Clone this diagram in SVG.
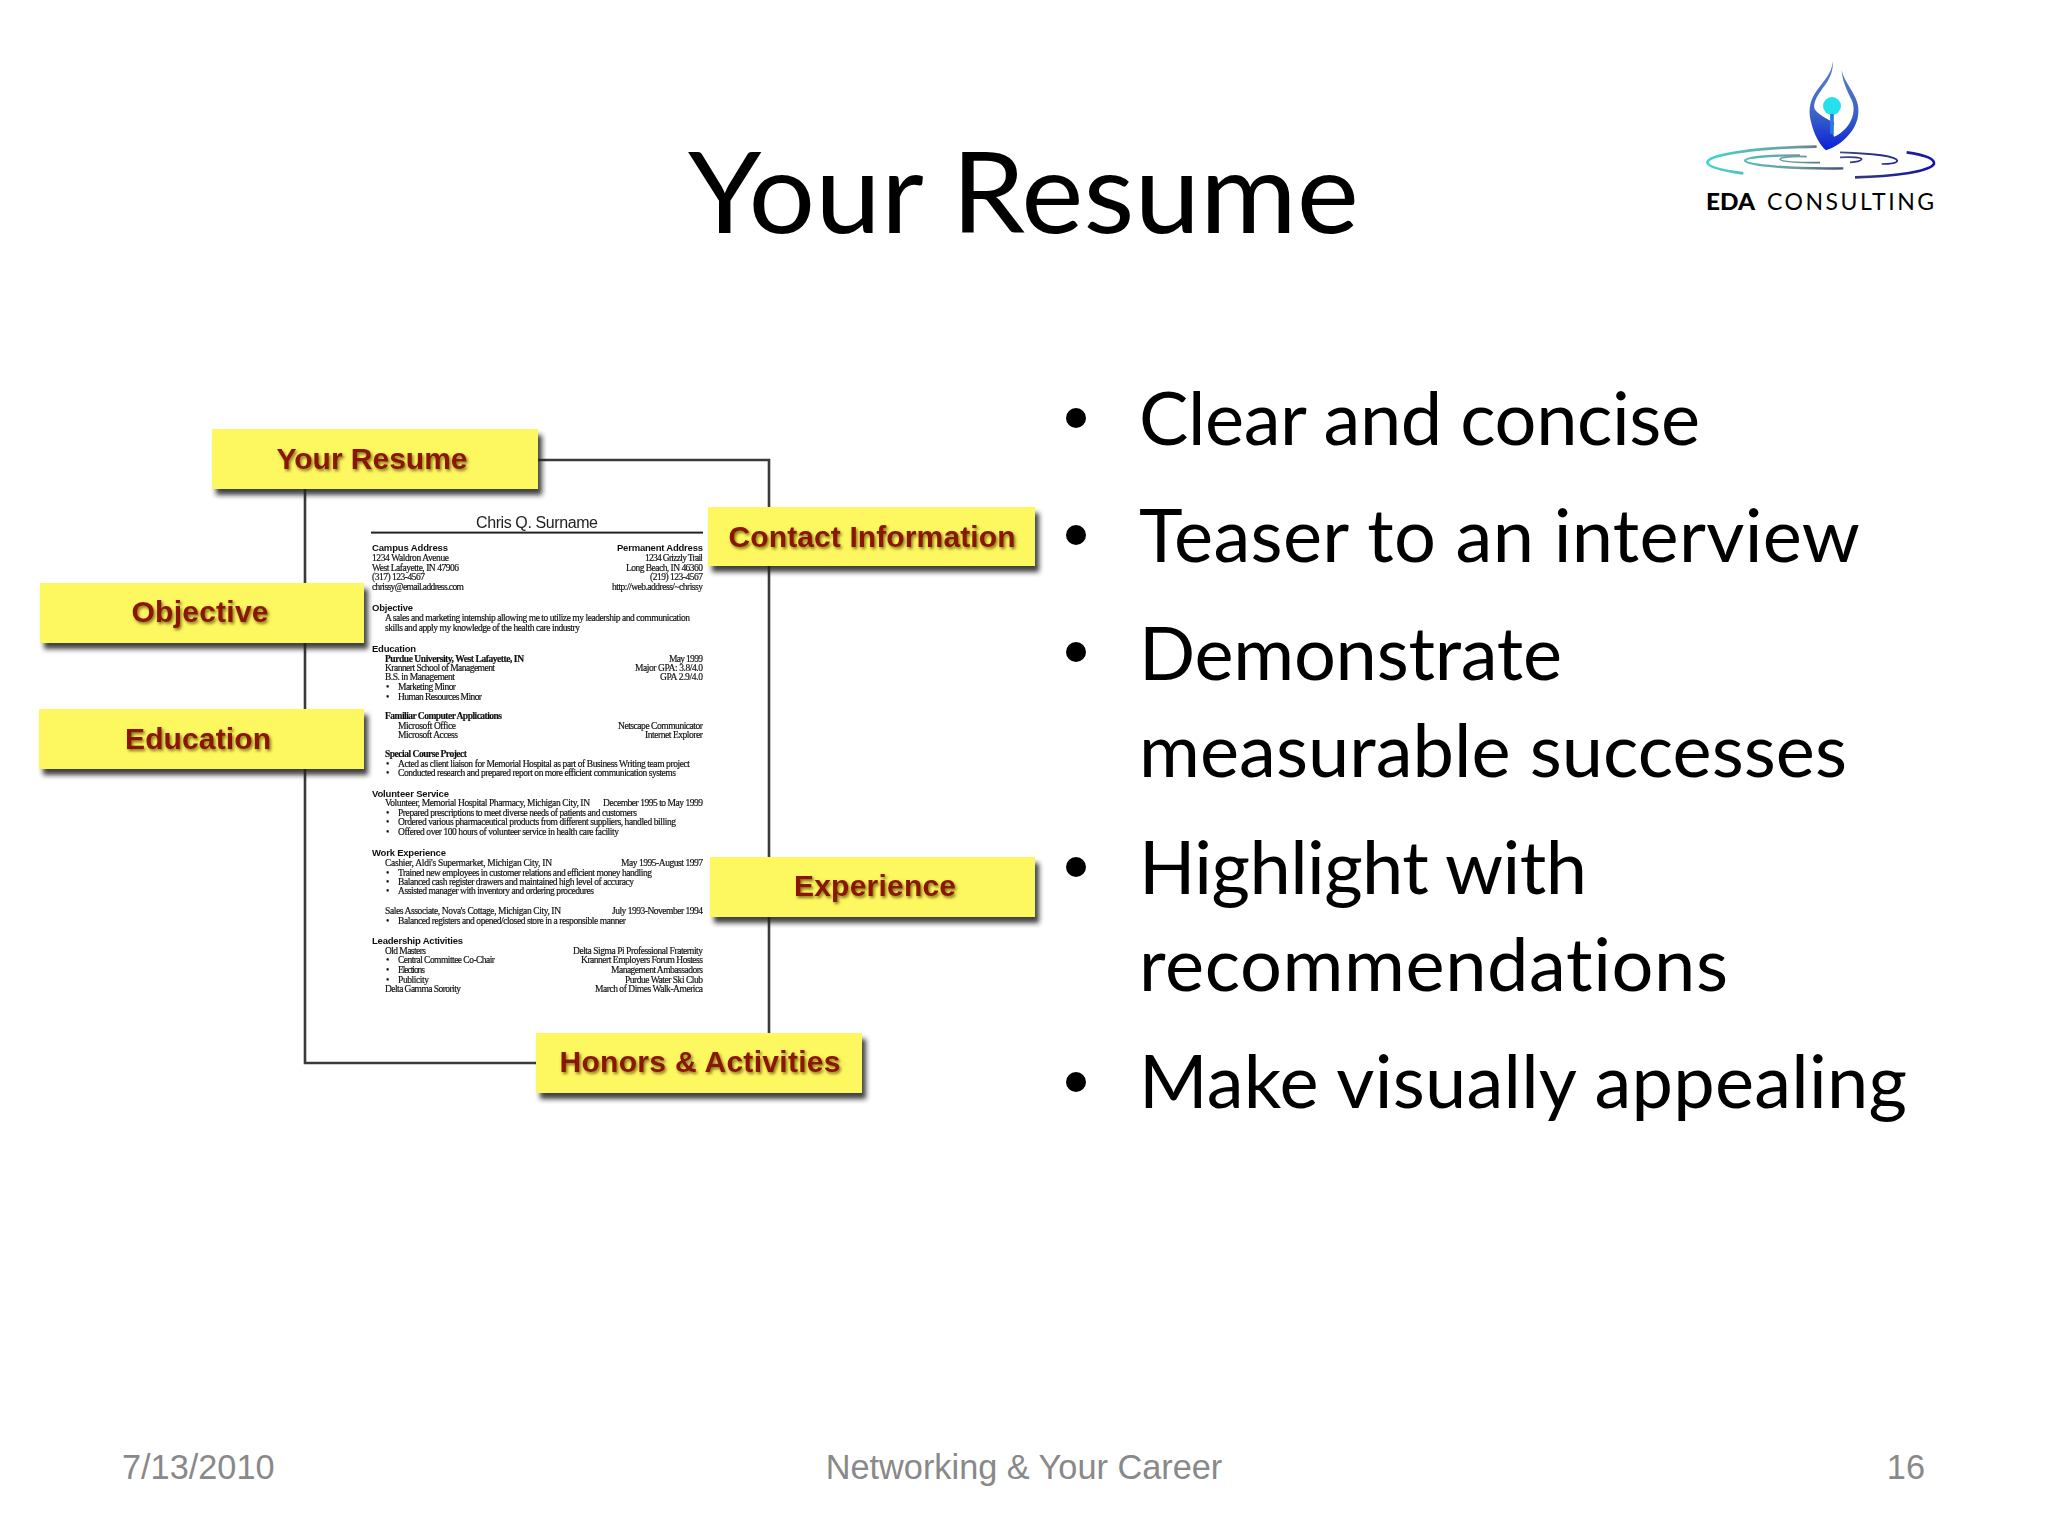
<svg xmlns="http://www.w3.org/2000/svg" width="2048" height="1536" viewBox="0 0 2048 1536">
<style>
text{font-family:"Liberation Sans",Arial,sans-serif}
.main{font-family:Lato,"Noto Sans",sans-serif;fill:#000;font-variant-ligatures:none}
.body{font-size:74px}
.foot{font-size:34.3px;fill:#898989}
.lbl{font-size:30px;font-weight:bold;fill:#8b1200;text-anchor:middle;filter:url(#glow)}
.box{fill:#fdf860;filter:url(#shadow)}
.frame{fill:none;stroke:#3a3a3a;stroke-width:2.6}
.s{font-family:"Liberation Serif",serif;font-size:9.5px;fill:#111;stroke:#111;stroke-width:.18}
.h{font-family:"Liberation Sans",sans-serif;font-size:9.5px;font-weight:bold;fill:#111}
.b{font-weight:bold}
</style>
<defs>
<filter id="shadow" x="-10%" y="-20%" width="125%" height="160%"><feDropShadow dx="4" dy="6" stdDeviation="2.5" flood-color="#222" flood-opacity=".85"/></filter>
<filter id="glow" x="-10%" y="-30%" width="120%" height="170%"><feGaussianBlur in="SourceGraphic" stdDeviation=".35" result="t"/><feDropShadow in="t" dx="1.5" dy="2" stdDeviation="1.6" flood-color="#6e5a10" flood-opacity=".85"/></filter>
<filter id="soft" x="-2%" y="-2%" width="104%" height="104%"><feGaussianBlur stdDeviation=".45"/></filter>
<linearGradient id="flame" x1="0" y1="0" x2="0" y2="1"><stop offset="0" stop-color="#5f82c4"/><stop offset=".6" stop-color="#3a62c8"/><stop offset="1" stop-color="#0a1fd8"/></linearGradient>
<linearGradient id="rip" gradientUnits="userSpaceOnUse" x1="20" y1="0" x2="705" y2="0"><stop offset="0" stop-color="#3fd8cc"/><stop offset=".4" stop-color="#6f9a9c"/><stop offset=".65" stop-color="#33397a"/><stop offset="1" stop-color="#1414a8"/></linearGradient>
</defs>
<rect width="2048" height="1536" fill="#fff"/>

<text id="title" class="main" x="688" y="233" font-size="112" textLength="671" lengthAdjust="spacingAndGlyphs">Your Resume</text>

<g id="logo">
<g transform="translate(1700,40) scale(.3333)">
<path fill="url(#flame)" d="M399,64C394,105 368,125 345,160C328,188 325,215 333,245C342,285 360,315 378,331C420,318 462,280 473,235C483,190 462,165 445,135C435,118 428,105 425,90C426,120 440,150 455,180C468,208 458,240 440,262C428,276 412,288 402,290C398,278 397,262 403,248C385,240 350,222 343,205C338,180 365,150 382,125C394,105 399,90 399,64Z"/>
<circle cx="396" cy="198" r="27" fill="#26e0ee"/>
<path d="M396,222V282" stroke="#2a7adf" stroke-width="11" fill="none"/>
<g fill="none" stroke="url(#rip)">
<path stroke-width="8" d="M130,400C55,390 22,378 22,366C30,342 180,322 350,320"/>
<path stroke-width="8" d="M620,337C680,345 705,358 702,372C690,395 580,410 465,412"/>
<path stroke-width="7" d="M300,346C200,346 135,352 135,362C140,376 280,388 430,385"/>
<path stroke-width="5" d="M320,350C280,347 240,352 240,358C245,366 310,368 360,368"/>
<path stroke-width="5" d="M420,337C520,340 590,350 592,362C590,368 570,372 545,372"/>
<path stroke-width="5" d="M420,352C460,350 485,353 485,358C483,364 470,366 450,367"/>
</g>
</g>
<text class="main" x="1706" y="210" font-size="23" font-weight="900" textLength="49" lengthAdjust="spacingAndGlyphs">EDA</text>
<text class="main" x="1767" y="210" font-size="23" textLength="167" fill="#222">CONSULTING</text>
</g>

<g id="connectors">
<path class="frame" d="M538,460H769V1033"/>
<path class="frame" d="M305,489V1063H536"/>
</g>

<g id="resume-page" filter="url(#soft)" transform="translate(0,.6)">
<text x="537" y="527" text-anchor="middle" style="font-size:16px;fill:#222" textLength="122">Chris Q. Surname</text>
<rect x="371" y="531" width="332" height="2" fill="#222"/>
<g class="left">
<text class="h" x="372" y="550" textLength="76">Campus Address</text>
<text class="s" x="372" y="560" textLength="77">1234 Waldron Avenue</text>
<text class="s" x="372" y="570" textLength="87">West Lafayette, IN 47906</text>
<text class="s" x="372" y="579" textLength="53">(317) 123-4567</text>
<text class="s" x="372" y="589" textLength="92">chrissy@email.address.com</text>
<text class="h" x="372" y="610" textLength="41">Objective</text>
<text class="s" x="385" y="620" textLength="305">A sales and marketing internship allowing me to utilize my leadership and communication</text>
<text class="s" x="385" y="630" textLength="195">skills and apply my knowledge of the health care industry</text>
<text class="h" x="372" y="651" textLength="44">Education</text>
<text class="s b" x="385" y="661" textLength="139">Purdue University, West Lafayette, IN</text>
<text class="s" x="385" y="670" textLength="110">Krannert School of Management</text>
<text class="s" x="385" y="679" textLength="70">B.S. in Management</text>
<text class="s" x="386" y="689">•</text><text class="s" x="398" y="689" textLength="58">Marketing Minor</text>
<text class="s" x="386" y="699">•</text><text class="s" x="398" y="699" textLength="84">Human Resources Minor</text>
<text class="s b" x="385" y="718" textLength="117">Familiar Computer Applications</text>
<text class="s" x="398" y="728" textLength="58">Microsoft Office</text>
<text class="s" x="398" y="737" textLength="60">Microsoft Access</text>
<text class="s b" x="385" y="756" textLength="82">Special Course Project</text>
<text class="s" x="386" y="766">•</text><text class="s" x="398" y="766" textLength="292">Acted as client liaison for Memorial Hospital as part of Business Writing team project</text>
<text class="s" x="386" y="775">•</text><text class="s" x="398" y="775" textLength="278">Conducted research and prepared report on more efficient communication systems</text>
<text class="h" x="372" y="796" textLength="77">Volunteer Service</text>
<text class="s" x="385" y="805" textLength="205">Volunteer, Memorial Hospital Pharmacy, Michigan City, IN</text>
<text class="s" x="386" y="815">•</text><text class="s" x="398" y="815" textLength="239">Prepared prescriptions to meet diverse needs of patients and customers</text>
<text class="s" x="386" y="824">•</text><text class="s" x="398" y="824" textLength="278">Ordered various pharmaceutical products from different suppliers, handled billing</text>
<text class="s" x="386" y="834">•</text><text class="s" x="398" y="834" textLength="221">Offered over 100 hours of volunteer service in health care facility</text>
<text class="h" x="372" y="855" textLength="74">Work Experience</text>
<text class="s" x="385" y="865" textLength="167">Cashier, Aldi's Supermarket, Michigan City, IN</text>
<text class="s" x="386" y="875">•</text><text class="s" x="398" y="875" textLength="254">Trained new employees in customer relations and efficient money handling</text>
<text class="s" x="386" y="884">•</text><text class="s" x="398" y="884" textLength="236">Balanced cash register drawers and maintained high level of accuracy</text>
<text class="s" x="386" y="893">•</text><text class="s" x="398" y="893" textLength="196">Assisted manager with inventory and ordering procedures</text>
<text class="s" x="385" y="913" textLength="176">Sales Associate, Nova's Cottage, Michigan City, IN</text>
<text class="s" x="386" y="923">•</text><text class="s" x="398" y="923" textLength="228">Balanced registers and opened/closed store in a responsible manner</text>
<text class="h" x="372" y="943" textLength="91">Leadership Activities</text>
<text class="s" x="385" y="953" textLength="41">Old Masters</text>
<text class="s" x="386" y="962">•</text><text class="s" x="398" y="962" textLength="97">Central Committee Co-Chair</text>
<text class="s" x="386" y="972">•</text><text class="s" x="398" y="972" textLength="27">Elections</text>
<text class="s" x="386" y="982">•</text><text class="s" x="398" y="982" textLength="31">Publicity</text>
<text class="s" x="385" y="991" textLength="76">Delta Gamma Sorority</text>
</g>
<g class="right">
<text class="h" x="617" y="550" textLength="86">Permanent Address</text>
<text class="s" x="645" y="560" textLength="58">1234 Grizzly Trail</text>
<text class="s" x="626" y="570" textLength="77">Long Beach, IN 46360</text>
<text class="s" x="650" y="579" textLength="53">(219) 123-4567</text>
<text class="s" x="612" y="589" textLength="91">http://web.address/~chrissy</text>
<text class="s" x="669" y="661" textLength="34">May 1999</text>
<text class="s" x="635" y="670" textLength="68">Major GPA: 3.8/4.0</text>
<text class="s" x="660" y="679" textLength="43">GPA 2.9/4.0</text>
<text class="s" x="618" y="728" textLength="85">Netscape Communicator</text>
<text class="s" x="645" y="737" textLength="58">Internet Explorer</text>
<text class="s" x="603" y="805" textLength="100">December 1995 to May 1999</text>
<text class="s" x="621" y="865" textLength="82">May 1995-August 1997</text>
<text class="s" x="612" y="913" textLength="91">July 1993-November 1994</text>
<text class="s" x="573" y="953" textLength="130">Delta Sigma Pi Professional Fraternity</text>
<text class="s" x="581" y="962" textLength="122">Krannert Employers Forum Hostess</text>
<text class="s" x="611" y="972" textLength="92">Management Ambassadors</text>
<text class="s" x="625" y="982" textLength="78">Purdue Water Ski Club</text>
<text class="s" x="595" y="991" textLength="108">March of Dimes Walk-America</text>
</g>
</g>

<g id="node-your-resume"><rect class="box" x="212" y="429" width="326" height="60"/><text class="lbl" x="372" y="469" textLength="191">Your Resume</text></g>
<g id="node-objective"><rect class="box" x="40" y="583" width="324" height="60"/><text class="lbl" x="200" y="622" textLength="137">Objective</text></g>
<g id="node-education"><rect class="box" x="39" y="709" width="325" height="60"/><text class="lbl" x="198" y="749" textLength="146">Education</text></g>
<g id="node-contact"><rect class="box" x="708" y="507" width="327" height="59"/><text class="lbl" x="872" y="547" textLength="287">Contact Information</text></g>
<g id="node-experience"><rect class="box" x="710" y="857" width="325" height="60"/><text class="lbl" x="875" y="896" textLength="162">Experience</text></g>
<g id="node-honors"><rect class="box" x="536" y="1033" width="326" height="60"/><text class="lbl" x="700" y="1072" textLength="281">Honors &amp; Activities</text></g>

<g id="bullets">
<circle cx="1076" cy="418" r="10"/><text class="main body" x="1139" y="445" textLength="561">Clear and concise</text>
<circle cx="1076" cy="535" r="10"/><text class="main body" x="1139" y="562" textLength="721">Teaser to an interview</text>
<circle cx="1076" cy="652" r="10"/><text class="main body" x="1139" y="680" textLength="423">Demonstrate</text>
<text class="main body" x="1139" y="777" textLength="708">measurable successes</text>
<circle cx="1076" cy="867" r="10"/><text class="main body" x="1139" y="894" textLength="448">Highlight with</text>
<text class="main body" x="1139" y="991" textLength="589">recommendations</text>
<circle cx="1076" cy="1082" r="10"/><text class="main body" x="1139" y="1108" textLength="768">Make visually appealing</text>
</g>

<g id="footer">
<text class="foot" x="122" y="1479">7/13/2010</text>
<text class="foot" x="1024" y="1479" text-anchor="middle">Networking &amp; Your Career</text>
<text class="foot" x="1925" y="1479" text-anchor="end">16</text>
</g>
</svg>
